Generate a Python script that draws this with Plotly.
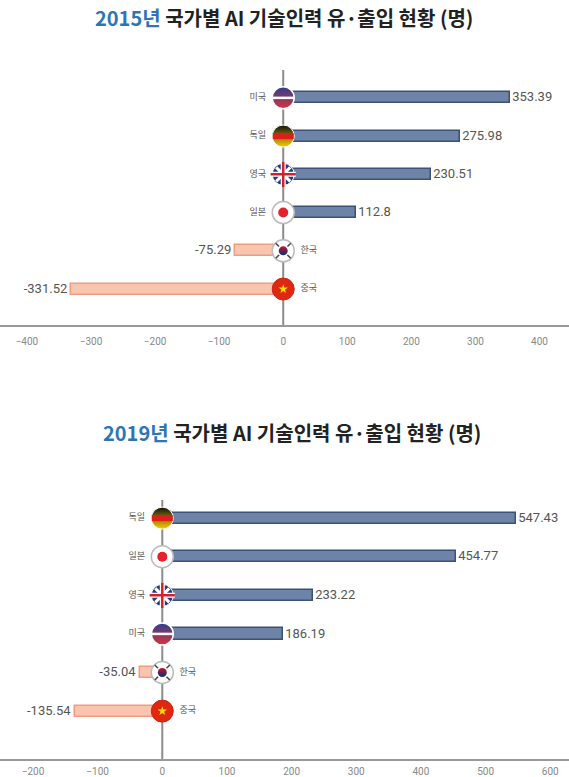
import plotly.graph_objects as go

# 2015 data (top chart), listed top to bottom
countries_2015 = ["미국", "독일", "영국", "일본", "한국", "중국"]
values_2015 = [353.39, 275.98, 230.51, 112.8, -75.29, -331.52]
ticks_2015 = [-400, -300, -200, -100, 0, 100, 200, 300, 400]

# 2019 data (bottom chart), listed top to bottom
countries_2019 = ["독일", "일본", "영국", "미국", "한국", "중국"]
values_2019 = [547.43, 454.77, 233.22, 186.19, -35.04, -135.54]
ticks_2019 = [-200, -100, 0, 100, 200, 300, 400, 500, 600]

titles = [
    "<span style='color:#2E75B6'>2015년</span> 국가별 AI 기술인력 유·출입 현황 (명)",
    "<span style='color:#2E75B6'>2019년</span> 국가별 AI 기술인력 유·출입 현황 (명)",
]

FONT = "Noto Sans CJK KR"
NUM_FONT = "Roboto"
POS_FILL, POS_LINE = "#6D83A7", "#3C5177"
NEG_FILL, NEG_LINE = "#F9C5AF", "#F29C7E"

# flag = stack of markers drawn at (0, country)
FLAGS = {
    "미국": [
        dict(symbol="circle", size=22, color="#2B3F8F", line=dict(color="white", width=1.5),
             gradient=dict(type="vertical", color="#D8343B")),
        dict(symbol="line-ew", size=16, line=dict(color="white", width=2.5)),
    ],
    "독일": [
        dict(symbol="circle", size=22, color="#111111", line=dict(color="white", width=1),
             gradient=dict(type="vertical", color="#FFCE00")),
        dict(symbol="line-ew", size=15, line=dict(color="#DD1F1A", width=6)),
    ],
    "영국": [
        dict(symbol="circle", size=22, color="#233B86", line=dict(color="white", width=1)),
        dict(symbol="x-thin", size=14, line=dict(color="white", width=3)),
        dict(symbol="cross-thin", size=18, line=dict(color="white", width=5)),
        dict(symbol="cross-thin", size=18, line=dict(color="#D3202F", width=2.5)),
    ],
    "일본": [
        dict(symbol="circle", size=22, color="white", line=dict(color="#BBBBBB", width=1.5)),
        dict(symbol="circle", size=10, color="#E8202A", line=dict(width=0)),
    ],
    "한국": [
        dict(symbol="circle", size=22, color="white", line=dict(color="#BBBBBB", width=1.5)),
        dict(symbol="x-thin", size=15, line=dict(color="#444444", width=1.5)),
        dict(symbol="circle", size=12, color="white", line=dict(width=0)),
        dict(symbol="circle", size=9, color="#C8102E", line=dict(width=0),
             gradient=dict(type="vertical", color="#003478")),
    ],
    "중국": [
        dict(symbol="circle", size=22, color="#DE2910", line=dict(color="#C9261A", width=1)),
        dict(symbol="star", size=7, color="#FFDE00", line=dict(width=0)),
    ],
}

fig = go.Figure()


def add_chart(countries, values, xa, ya):
    fig.add_trace(go.Bar(
        x=values, y=countries, orientation="h", width=0.29,
        marker=dict(color=[POS_FILL if v > 0 else NEG_FILL for v in values],
                    line=dict(color=[POS_LINE if v > 0 else NEG_LINE for v in values], width=1.5)),
        text=[str(v) for v in values], textposition="outside", constraintext="none",
        textfont=dict(family=NUM_FONT, size=13, color="#555555"),
        cliponaxis=False, xaxis=xa, yaxis=ya, showlegend=False, hoverinfo="skip",
    ))
    for c, v in zip(countries, values):
        for m in FLAGS[c]:
            fig.add_trace(go.Scatter(x=[0], y=[c], mode="markers", marker=m,
                                     xaxis=xa, yaxis=ya, showlegend=False,
                                     hoverinfo="skip", cliponaxis=False))
        # country name beside the flag, opposite side of the bar
        fig.add_trace(go.Scatter(
            x=[0], y=[c], mode="markers+text", text=[c],
            textposition="middle left" if v > 0 else "middle right",
            textfont=dict(family=FONT, size=9, color="#555555"),
            marker=dict(size=26, color="rgba(0,0,0,0)"), xaxis=xa, yaxis=ya,
            showlegend=False, hoverinfo="skip", cliponaxis=False))


add_chart(countries_2015, values_2015, "x", "y")
add_chart(countries_2019, values_2019, "x2", "y2")

axis_x = dict(showgrid=False, zeroline=False, showline=True, linecolor="#999999", linewidth=2,
              ticks="outside", tickcolor="rgba(0,0,0,0)", automargin=False,
              tickfont=dict(family=NUM_FONT, size=10, color="#888888"), fixedrange=True)
axis_y = dict(showgrid=False, zeroline=False, showline=False, showticklabels=False,
              type="category", automargin=False, fixedrange=True)

fig.update_layout(
    width=569, height=777,
    margin=dict(l=0, r=0, t=0, b=0),
    paper_bgcolor="white", plot_bgcolor="white",
    template="none",
    bargap=0,
    xaxis=dict(axis_x, domain=[0, 1], anchor="y", range=[-442, 446], tickvals=ticks_2015,
               ticklen=6),
    yaxis=dict(axis_y, domain=[0.5817, 0.910], anchor="x",
               categoryarray=countries_2015[::-1], range=[-0.94, 5.73]),
    xaxis2=dict(axis_x, domain=[0, 1], anchor="y2", range=[-251, 629], tickvals=ticks_2019,
                ticklen=2),
    yaxis2=dict(axis_y, domain=[0.0232, 0.3565], anchor="x2",
                categoryarray=countries_2019[::-1], range=[-1.24, 5.47]),
    shapes=[
        dict(type="line", xref="x", yref="y domain", x0=0, x1=0, y0=0, y1=1,
             line=dict(color="#8C8C8C", width=2), layer="below"),
        dict(type="line", xref="x2", yref="y2 domain", x0=0, x1=0, y0=0, y1=1,
             line=dict(color="#8C8C8C", width=2), layer="below"),
    ],
    annotations=[
        dict(text="<b>" + titles[0] + "</b>", x=0.499, y=0.978, xref="paper", yref="paper",
             xanchor="center", yanchor="middle", showarrow=False,
             font=dict(family=FONT, size=20, color="#222222")),
        dict(text="<b>" + titles[1] + "</b>", x=0.513, y=0.444, xref="paper", yref="paper",
             xanchor="center", yanchor="middle", showarrow=False,
             font=dict(family=FONT, size=20, color="#222222")),
    ],
)

# page body has a default 8px margin; drop it so the figure fills the window
fig.write_html("out.html", config={"displayModeBar": False},
               post_script="document.body.style.margin = '0';")
